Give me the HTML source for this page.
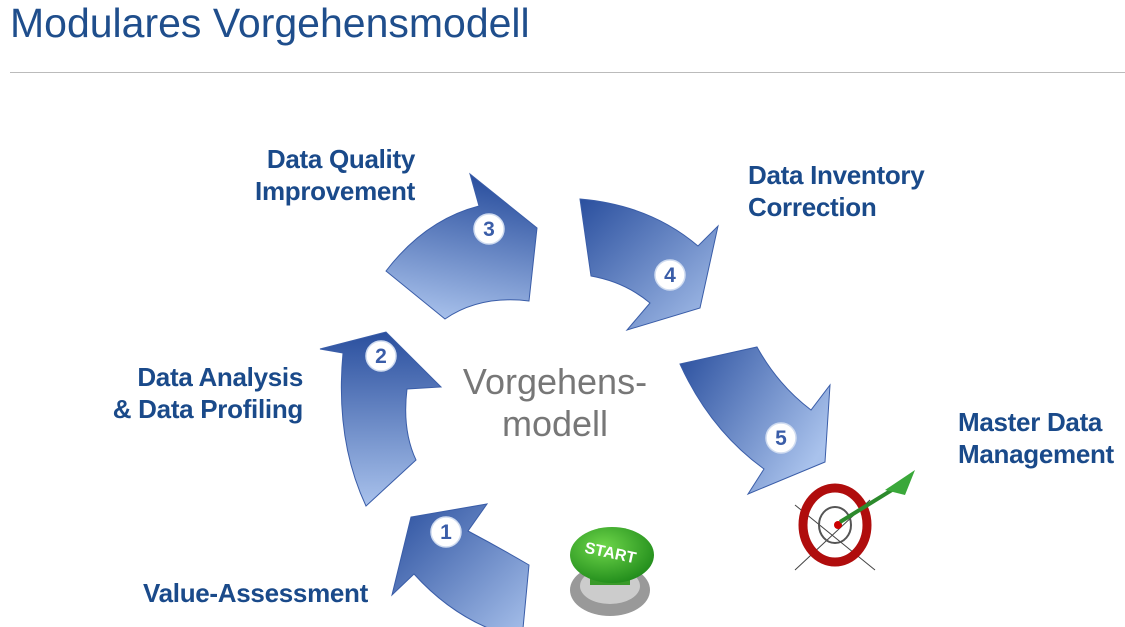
<!DOCTYPE html>
<html><head><style>
body{margin:0;width:1125px;height:627px;background:#fff;position:relative;overflow:hidden;font-family:"Liberation Sans",sans-serif}
.t{position:absolute;color:#1a4a8a;font-weight:bold;font-size:26px;line-height:32px;letter-spacing:-0.3px}
</style></head><body>
<div style="position:absolute;left:10px;top:0px;font-size:41px;color:#1f4e8c">Modulares Vorgehensmodell</div>
<div style="position:absolute;left:10px;top:72px;width:1115px;height:1px;background:#bbb"></div>
<div class="t" style="left:215px;top:143px;text-align:right;width:200px">Data Quality<br>Improvement</div>
<div class="t" style="left:748px;top:159px">Data Inventory<br>Correction</div>
<div class="t" style="left:70px;top:361px;text-align:right;width:233px">Data Analysis<br>&amp; Data Profiling</div>
<div class="t" style="left:958px;top:406px">Master Data<br>Management</div>
<div class="t" style="left:143px;top:577px">Value-Assessment</div>
<div style="position:absolute;left:430px;top:361px;width:250px;text-align:center;font-size:36px;line-height:42px;color:#777">Vorgehens-<br>modell</div>
<svg width="1125" height="627" style="position:absolute;left:0;top:0">
<defs>
<linearGradient id="g1" x1="0" y1="0" x2="1" y2="1"><stop offset="0" stop-color="#2a4f9e"/><stop offset="1" stop-color="#a9c2ec"/></linearGradient>
<linearGradient id="g2" x1="0" y1="0" x2="0" y2="1"><stop offset="0" stop-color="#2a4f9e"/><stop offset="1" stop-color="#a9c2ec"/></linearGradient>
<linearGradient id="g3" x1="0.5" y1="0" x2="0.3" y2="1"><stop offset="0" stop-color="#2a4f9e"/><stop offset="1" stop-color="#a9c2ec"/></linearGradient>
<linearGradient id="g4" x1="0" y1="0" x2="1" y2="1"><stop offset="0" stop-color="#2a4f9e"/><stop offset="1" stop-color="#a9c2ec"/></linearGradient>
<linearGradient id="g5" x1="0" y1="0" x2="1" y2="0.6"><stop offset="0" stop-color="#2a4f9e"/><stop offset="1" stop-color="#a9c2ec"/></linearGradient>
<radialGradient id="gb" cx="0.4" cy="0.35" r="0.7"><stop offset="0" stop-color="#6ed64a"/><stop offset="1" stop-color="#1f8a1a"/></radialGradient>
</defs>
<g stroke="#3a5da8" stroke-width="1">
<path fill="url(#g1)" d="M529,565 L522,639 Q460,625 414,574 L392,595 L411,517 L487,504 L468,531 Q500,548 529,565Z"/>
<path fill="url(#g2)" d="M366,506 L416,460 Q402,430 407,389 L441,387 L386,332 L320,349 L343,353 Q335,440 366,506Z"/>
<path fill="url(#g3)" d="M386,271 L445,319 Q480,295 529,301 L537,228 L470,174 L479,206 Q425,220 386,271Z"/>
<path fill="url(#g4)" d="M580,199 L591,276 Q625,282 650,303 L627,330 L700,308 L718,226 L698,246 Q650,205 580,199Z"/>
<path fill="url(#g5)" d="M680,364 L757,347 Q778,385 811,410 L830,385 L825,462 L748,494 L764,469 Q710,430 680,364Z"/>
</g>
<g fill="#fff" stroke="#d0dcf0" stroke-width="1.5">
<circle cx="446" cy="532" r="15"/><circle cx="381" cy="356" r="15"/><circle cx="489" cy="229" r="15"/><circle cx="670" cy="275" r="15"/><circle cx="781" cy="438" r="15"/>
</g>
<g fill="#3a5da8" font-size="21" font-weight="bold" text-anchor="middle" font-family="Liberation Sans,sans-serif">
<text x="446" y="539">1</text><text x="381" y="363">2</text><text x="489" y="236">3</text><text x="670" y="282">4</text><text x="781" y="445">5</text>
</g>
<ellipse cx="610" cy="590" rx="40" ry="26" fill="#999"/>
<ellipse cx="610" cy="586" rx="30" ry="18" fill="#ccc"/>
<rect x="590" y="560" width="40" height="25" fill="#3a9a2a"/>
<ellipse cx="612" cy="555" rx="42" ry="28" fill="url(#gb)"/>
<text x="610" y="558" fill="#fff" font-size="16" font-weight="bold" text-anchor="middle" transform="rotate(12 610 555)">START</text>
<line x1="795" y1="505" x2="875" y2="570" stroke="#444"/><line x1="795" y1="570" x2="870" y2="500" stroke="#444"/>
<ellipse cx="835" cy="525" rx="32" ry="37" fill="none" stroke="#b00d0d" stroke-width="9"/>
<ellipse cx="835" cy="525" rx="16" ry="18" fill="none" stroke="#555" stroke-width="2"/>
<circle cx="838" cy="525" r="4" fill="#c00"/>
<line x1="840" y1="522" x2="900" y2="485" stroke="#2c8a2c" stroke-width="4"/>
<path d="M885,490 L915,470 L905,495Z" fill="#3aa83a"/>
</svg>
</body></html>
